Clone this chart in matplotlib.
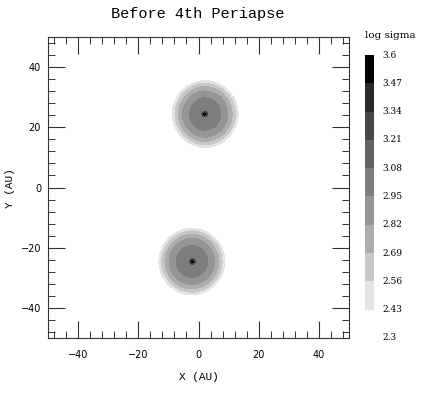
import matplotlib
matplotlib.use('Agg')
import matplotlib.pyplot as plt
import numpy as np
from matplotlib.colors import ListedColormap, BoundaryNorm
from matplotlib.ticker import MultipleLocator

# disc centres (AU)
centres = [(2.2, 24.4), (-2.2, -24.6)]

# radial profile: outer radius of each ring (AU) -> log sigma
ring_r = [0.5, 1.1, 2.5, 5.5, 7.8, 9.2, 10.3, 11.2]
ring_val = [3.55, 3.25, 2.97, 2.96, 2.86, 2.74, 2.61, 2.48]

# colour levels of the bar
levels = [2.3, 2.43, 2.56, 2.69, 2.82, 2.95, 3.08, 3.21, 3.34, 3.47, 3.6]
level_labels = ['2.3', '2.43', '2.56', '2.69', '2.82', '2.95', '3.08', '3.21', '3.34', '3.47', '3.6']

greys = ['#ffffff', '#e4e4e4', '#c8c8c8', '#adadad', '#959595',
         '#7d7d7d', '#626262', '#474747', '#2a2a2a', '#000000']
cmap = ListedColormap(greys)
norm = BoundaryNorm(levels, cmap.N)

# build the surface density map from the ring table
step = 0.33
xs = np.arange(-50, 50 + step, step)
X, Y = np.meshgrid(xs, xs)
field = np.full(X.shape, np.nan)
for cx, cy in centres:
    r = np.hypot(X - cx, Y - cy)
    idx = np.digitize(r, ring_r)
    inside = idx < len(ring_val)
    field[inside] = np.array(ring_val)[idx[inside]]
field = np.ma.masked_invalid(field)

fig = plt.figure(figsize=(4.21, 3.93), dpi=100)
ax = fig.add_axes([48 / 421, 1 - 338 / 393, 301 / 421, 301 / 393])
ax.pcolormesh(X, Y, field, cmap=cmap, norm=norm, shading='nearest')
ax.set_xlim(-50, 50)
ax.set_ylim(-50, 50)
ax.xaxis.set_major_locator(MultipleLocator(20))
ax.yaxis.set_major_locator(MultipleLocator(20))
ax.xaxis.set_minor_locator(MultipleLocator(4))
ax.yaxis.set_minor_locator(MultipleLocator(4))
ax.tick_params(which='both', direction='in', top=True, right=True, colors='#333333',
               labelsize=7, labelcolor='black')
ax.tick_params(axis='x', pad=9)
ax.tick_params(axis='y', pad=5)
ax.tick_params(which='major', length=12, width=0.8)
ax.tick_params(which='minor', length=5, width=0.7)
for s in ax.spines.values():
    s.set_linewidth(0.8)
    s.set_color('#333333')

mono = 'Liberation Mono'
ax.set_xlabel('X (AU)', fontsize=8, family=mono, labelpad=8)
fig.text(10 / 421, 1 - 188 / 393, 'Y (AU)', rotation=90, ha='center', va='center',
         fontsize=8, family=mono)
fig.text(198 / 421, 1 - 14 / 393, 'Before 4th Periapse', ha='center', va='center',
         fontsize=11, family=mono)

# colour bar
cax = fig.add_axes([365 / 421, 1 - 338 / 393, 9 / 421, 283 / 393])
for i in range(len(greys)):
    cax.axhspan(levels[i], levels[i + 1], color=greys[i], lw=0)
cax.set_ylim(levels[0], levels[-1])
cax.set_xlim(0, 1)
cax.axis('off')
for v, lab in zip(levels, level_labels):
    cax.text(1.9, v, lab, transform=cax.get_yaxis_transform(), ha='left', va='center',
             fontsize=6.5, family='DejaVu Serif')
fig.text(390 / 421, 1 - 36 / 393, 'log sigma', ha='center', va='center',
         fontsize=7.5, family='DejaVu Serif')

fig.savefig('out.png', dpi=100)
